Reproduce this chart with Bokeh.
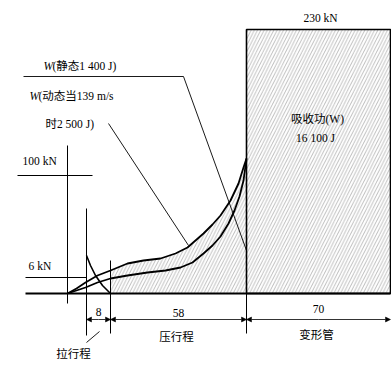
from bokeh.plotting import figure
from bokeh.models import Range1d, Arrow, NormalHead
from bokeh.embed import file_html
from bokeh.resources import INLINE
from bokeh.core.properties import value

# schematic diagram units (y grows downward)
upper_x = [67, 76, 85, 97, 110, 127, 143, 160, 175, 187, 203, 212, 220, 230, 238, 243, 246]
upper_y = [293, 288, 282, 275, 270, 263, 260, 258, 253, 247, 233, 224, 215, 200, 183, 167, 158]
lower_x = [67, 76, 85, 97, 110, 127, 147, 165, 180, 192, 203, 212, 220, 228, 234, 239, 243, 246]
lower_y = [293, 290, 287, 282, 278, 275, 272, 270, 267, 262, 253, 245, 236, 223, 210, 196, 180, 158]
pull_x = [86, 88, 90, 95, 102, 106, 110]
pull_y = [255, 260, 265, 275, 285, 289, 293]

base_y = 293
stroke_edges = [86, 110, 246, 390]      # pull 8 | press 58 | tube 70
stroke_labels = ["8", "58", "70"]
box_top = 29

font_lat = value("Liberation Serif, Noto Sans CJK SC")

p = figure(width=391, height=369, output_backend="svg", toolbar_location=None,
           x_range=Range1d(0, 391), y_range=Range1d(369, 0), min_border=0)
p.axis.visible = False
p.grid.visible = False
p.outline_line_color = None

hatch = dict(hatch_pattern="/", hatch_color="#777777", hatch_scale=6.5, hatch_weight=0.5)

# hatched work area under curve
i0 = upper_x.index(110)
hx = [110] + upper_x[i0:] + [246, 110]
hy = [base_y] + upper_y[i0:] + [base_y, base_y]
p.patch(hx, hy, fill_color=None, line_color=None, **hatch)

# deformation tube box
p.quad(left=[stroke_edges[2]], right=[stroke_edges[3]], top=[box_top], bottom=[base_y],
       fill_color=None, line_color="black", line_width=1.6, **hatch)

# curves
p.line(upper_x, upper_y, line_color="black", line_width=1.8, line_join="round")
p.line(lower_x, lower_y, line_color="black", line_width=1.8, line_join="round")
p.line(pull_x, pull_y, line_color="black", line_width=1.6, line_join="round")

# baseline
p.line([25, 390], [base_y, base_y], line_color="black", line_width=2)

# force axis and ticks
p.line([67, 67], [145, 303], line_color="black", line_width=1)
p.line([17, 92], [175, 175], line_color="black", line_width=1)
p.line([25, 86], [277, 277], line_color="black", line_width=1)

# extension lines
p.line([86, 86], [208, 335], line_color="black", line_width=1)
p.line([110, 110], [260, 333], line_color="black", line_width=1)
p.line([246, 246], [293, 333], line_color="black", line_width=1)

# dimension arrows
dim_y = 319
for a, b in zip(stroke_edges[:-1], stroke_edges[1:]):
    p.add_layout(Arrow(x_start=(a + b) / 2, y_start=dim_y, x_end=a, y_end=dim_y,
                       line_width=0.8, end=NormalHead(size=5, line_width=0.5)))
    p.add_layout(Arrow(x_start=(a + b) / 2, y_start=dim_y, x_end=b, y_end=dim_y,
                       line_width=0.8, end=NormalHead(size=5, line_width=0.5)))

# leader lines
p.line([23, 183, 246], [76, 76, 250], line_color="black", line_width=0.9)
p.line([108, 188], [123, 245], line_color="black", line_width=0.9)
p.line([86, 99], [342, 331], line_color="black", line_width=0.9)

def txt(x, y, s, align="center", style="normal"):
    p.text([x], [y], text=[s], text_font=font_lat, text_font_size="11.5px",
           text_align=align, text_baseline="middle", text_color="black",
           text_font_style=style)

txt(320, 17, "230 kN")
txt(43, 65, "W", "left", "italic")
txt(52, 65, "(静态1 400 J)", "left")
txt(29, 95, "W", "left", "italic")
txt(38, 95, "(动态当139 m/s", "left")
txt(45, 123, "时2 500 J)", "left")
txt(22, 160, "100 kN", "left")
txt(28, 265, "6 kN", "left")
txt(317, 118, "吸收功(W)")
txt(315, 137, "16 100 J")
for a, b, s, yy in zip(stroke_edges[:-1], stroke_edges[1:], stroke_labels, [311, 312, 308]):
    txt((a + b) / 2, yy, s)
txt(176, 336, "压行程")
txt(316, 334, "变形管")
txt(73, 353, "拉行程")

open("out.html", "w").write(file_html(p, INLINE))
